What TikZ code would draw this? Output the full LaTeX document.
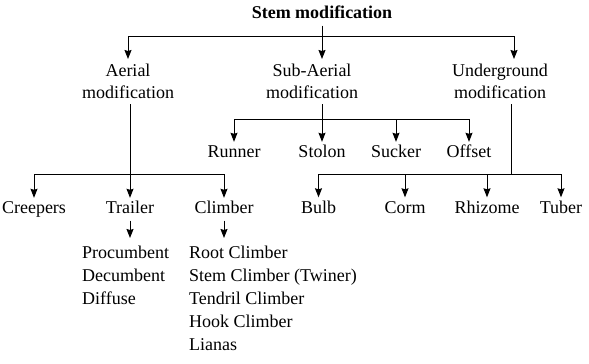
\documentclass[tikz,border=0pt]{standalone}
\usepackage{fontspec}
\setmainfont{Liberation Serif}
\usetikzlibrary{arrows.meta}

\begin{document}
\begin{tikzpicture}[x=1pt, y=-1pt,
    lbl/.style={font=\fontsize{18}{22.5}\selectfont, anchor=base, text height=12.5pt, text depth=4pt, inner xsep=1pt, inner ysep=3pt},
    grp/.style={font=\fontsize{18}{22}\selectfont, anchor=north, align=center, inner sep=5pt},
    lst/.style={font=\fontsize{18}{23}\selectfont, anchor=north west, align=left, inner xsep=0pt, inner ysep=8pt},
    arr/.style={-{Stealth[length=9pt, width=7pt, inset=1pt]}, line width=1pt},
    ln/.style={line width=1pt}
]
\useasboundingbox (0,0) rectangle (589,364);

\node[lbl, font=\bfseries\fontsize{18}{22.5}\selectfont] (stem) at (322,18.5) {Stem modification};

\node[grp] (aer) at (128,59) {Aerial\\modification};
\node[grp] (sub) at (312,59) {Sub-Aerial\\modification};
\node[grp] (und) at (500,59) {Underground\\modification};

\node[lbl] (run) at (234,157.5) {Runner};
\node[lbl] (sto) at (322,157.5) {Stolon};
\node[lbl] (suc) at (396,157.5) {Sucker};
\node[lbl] (off) at (469,157.5) {Offset};

\node[lbl] (crp) at (34,213.5) {Creepers};
\node[lbl] (trl) at (130,213.5) {Trailer};
\node[lbl] (clb) at (224,213.5) {Climber};

\node[lbl] (blb) at (318.5,213) {Bulb};
\node[lbl] (crm) at (405,213) {Corm};
\node[lbl] (rhz) at (487,213) {Rhizome};
\node[lbl] (tub) at (561,213) {Tuber};

\node[lst] (prc) at (82,238) {Procumbent\\Decumbent\\Diffuse};
\node[lst] (cls) at (189,238) {Root Climber\\Stem Climber (Twiner)\\Tendril Climber\\Hook Climber\\Lianas};

% top level
\coordinate (tj) at (322,36);
\coordinate (tu) at (514,36);
\draw[arr] (stem) -- (stem |- sub.north);
\draw[arr] (tj) -| (aer);
\draw[arr] (tj) -- (tu) -- (tu |- und.north);

% aerial
\coordinate (aj) at (130,174);
\draw[arr] (aer.south -| aj) -- (trl);
\draw[arr] (aj) -| (crp);
\draw[arr] (aj) -| (clb);
\draw[arr] (trl) -- (trl |- prc.north);
\draw[arr] (clb) -- (clb |- cls.north);

% sub-aerial
\coordinate (sj) at (322,119);
\draw[ln] (sub.south -| sj) -- (sj);
\draw[arr] (sj) -| (run);
\draw[arr] (sj) -| (off);
\draw[arr] (sj) -- (sto);
\draw[arr] (sj -| suc) -- (suc);

% underground
\coordinate (uj) at (511,174);
\draw[ln] (und.south -| uj) -- (uj);
\draw[arr] (uj) -| (blb);
\draw[arr] (uj) -| (tub);
\draw[arr] (uj -| crm) -- (crm);
\draw[arr] (uj -| rhz) -- (rhz);
\end{tikzpicture}
\end{document}
